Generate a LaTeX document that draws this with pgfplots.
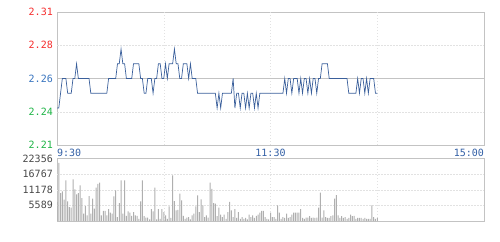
\documentclass[border=0pt]{standalone}
\usepackage{pgfplots}
\pgfplotsset{compat=1.18}
\usepackage{fontspec}
\setmainfont{DejaVu Sans Mono}
\definecolor{pline}{RGB}{58,95,155}
\definecolor{pred}{RGB}{245,45,45}
\definecolor{pblue}{RGB}{55,115,190}
\definecolor{pgreen}{RGB}{30,180,70}
\definecolor{tblue}{RGB}{50,95,165}
\definecolor{frm}{RGB}{195,195,195}
\definecolor{grd}{RGB}{226,226,226}
\definecolor{mid}{RGB}{195,195,195}
\definecolor{vbar}{RGB}{175,175,175}
\begin{document}
\begin{tikzpicture}
\useasboundingbox (0,0) rectangle (500pt,-241pt);
\begin{axis}[at={(57pt,-145pt)}, anchor=south west, scale only axis,
  width=427pt, height=133pt, xmin=0, xmax=240, ymin=2.215, ymax=2.305,
  axis line style={draw=frm}, tick style={draw=none},
  xtick={0,120,240},
  xticklabels={\makebox[0pt][l]{9:30},11:30,\makebox[0pt][r]{15:00}},
  xticklabel style={anchor=north, inner sep=0pt, yshift=-4pt, text=tblue, font=\fontsize{10}{12}\selectfont},
  ytick={2.215,2.2375,2.26,2.2825,2.305},
  yticklabels={{\color{pgreen}2.21},{\color{pgreen}2.24},{\color{pblue}2.26},{\color{pred}2.28},{\color{pred}2.31}},
  yticklabel style={anchor=east, inner sep=0pt, xshift=-4pt, font=\fontsize{10}{12}\selectfont},
  clip=false]
\draw[grd, dash pattern=on 1.5pt off 1.5pt] (axis cs:60,2.215) -- (axis cs:60,2.305);
\draw[grd, dash pattern=on 1.5pt off 1.5pt] (axis cs:120,2.215) -- (axis cs:120,2.305);
\draw[grd, dash pattern=on 1.5pt off 1.5pt] (axis cs:180,2.215) -- (axis cs:180,2.305);
\draw[grd, dash pattern=on 1.5pt off 1.5pt] (axis cs:0,2.2375) -- (axis cs:240,2.2375);
\draw[grd, dash pattern=on 1.5pt off 1.5pt] (axis cs:0,2.2825) -- (axis cs:240,2.2825);
\draw[mid, line width=0.8pt] (axis cs:0,2.26) -- (axis cs:240,2.26);
\addplot[pline, line width=0.7pt, mark=none] coordinates {
(0,2.24)(1,2.24)(2,2.25)(3,2.26)(4,2.26)(5,2.26)(6,2.25)(7,2.25)(8,2.25)(9,2.26)
(10,2.26)(11,2.27)(12,2.26)(13,2.26)(14,2.26)(15,2.26)(16,2.26)(17,2.26)(18,2.26)(19,2.25)
(20,2.25)(21,2.25)(22,2.25)(23,2.25)(24,2.25)(25,2.25)(26,2.25)(27,2.25)(28,2.25)(29,2.26)
(30,2.26)(31,2.26)(32,2.26)(33,2.26)(34,2.27)(35,2.27)(36,2.28)(37,2.27)(38,2.27)(39,2.26)
(40,2.26)(41,2.26)(42,2.26)(43,2.27)(44,2.27)(45,2.27)(46,2.27)(47,2.26)(48,2.26)(49,2.25)
(50,2.25)(51,2.26)(52,2.26)(53,2.26)(54,2.25)(55,2.26)(56,2.26)(57,2.27)(58,2.27)(59,2.26)
(60,2.26)(61,2.27)(62,2.26)(63,2.27)(64,2.27)(65,2.27)(66,2.28)(67,2.27)(68,2.27)(69,2.26)
(70,2.26)(71,2.27)(72,2.27)(73,2.27)(74,2.26)(75,2.27)(76,2.26)(77,2.26)(78,2.26)(79,2.25)
(80,2.25)(81,2.25)(82,2.25)(83,2.25)(84,2.25)(85,2.25)(86,2.25)(87,2.25)(88,2.25)(89,2.25)
(90,2.24)(91,2.25)(92,2.24)(93,2.25)(94,2.25)(95,2.25)(96,2.25)(97,2.25)(98,2.25)(99,2.26)
(100,2.24)(101,2.25)(102,2.25)(103,2.24)(104,2.25)(105,2.25)(106,2.24)(107,2.25)(108,2.24)(109,2.25)
(110,2.25)(111,2.24)(112,2.25)(113,2.24)(114,2.25)(115,2.25)(116,2.25)(117,2.25)(118,2.25)(119,2.25)
(120,2.25)(121,2.25)(122,2.25)(123,2.25)(124,2.25)(125,2.25)(126,2.25)(127,2.25)(128,2.26)(129,2.25)
(130,2.26)(131,2.26)(132,2.25)(133,2.26)(134,2.26)(135,2.26)(136,2.25)(137,2.26)(138,2.25)(139,2.26)
(140,2.26)(141,2.25)(142,2.26)(143,2.25)(144,2.26)(145,2.26)(146,2.25)(147,2.26)(148,2.26)(149,2.27)
(150,2.27)(151,2.27)(152,2.27)(153,2.26)(154,2.26)(155,2.26)(156,2.26)(157,2.26)(158,2.26)(159,2.26)
(160,2.26)(161,2.26)(162,2.26)(163,2.26)(164,2.25)(165,2.25)(166,2.25)(167,2.25)(168,2.25)(169,2.26)
(170,2.25)(171,2.26)(172,2.26)(173,2.25)(174,2.26)(175,2.25)(176,2.26)(177,2.26)(178,2.26)(179,2.25)
(180,2.25)};
\end{axis}
\begin{axis}[at={(57pt,-221pt)}, anchor=south west, scale only axis,
  width=427pt, height=62.6pt, xmin=0, xmax=240, ymin=0, ymax=22356,
  axis line style={draw=frm}, tick style={draw=none},
  xtick=\empty,
  ytick={5589,11178,16767,22356},
  yticklabels={5589,11178,16767,22356},
  yticklabel style={anchor=east, inner sep=0pt, xshift=-4pt, text=black!72, font=\fontsize{10}{12}\selectfont},
  scaled y ticks=false]
\draw[grd, dash pattern=on 1.5pt off 1.5pt] (axis cs:60,0) -- (axis cs:60,22356);
\draw[grd, dash pattern=on 1.5pt off 1.5pt] (axis cs:120,0) -- (axis cs:120,22356);
\draw[grd, dash pattern=on 1.5pt off 1.5pt] (axis cs:180,0) -- (axis cs:180,22356);
\draw[grd, dash pattern=on 1.5pt off 1.5pt] (axis cs:0,5589) -- (axis cs:240,5589);
\draw[grd, dash pattern=on 1.5pt off 1.5pt] (axis cs:0,11178) -- (axis cs:240,11178);
\draw[grd, dash pattern=on 1.5pt off 1.5pt] (axis cs:0,16767) -- (axis cs:240,16767);
\addplot[ybar, bar width=1pt, fill=vbar, draw=none] coordinates {
(0,6800)(1,20800)(2,10000)(3,10600)(4,7600)(5,14500)(6,7000)(7,5000)(8,4750)(9,14900)
(10,11300)(11,9500)(12,10000)(13,12700)(14,8200)(15,2600)(16,5350)(17,2000)(18,8900)(19,2600)
(20,8000)(21,4400)(22,11900)(23,13300)(24,13700)(25,2000)(26,3600)(27,3600)(28,2000)(29,4200)
(30,3000)(31,2600)(32,8800)(33,10900)(34,1400)(35,6400)(36,14500)(37,2600)(38,14500)(39,1800)
(40,3400)(41,3000)(42,1800)(43,3200)(44,2000)(45,1800)(46,800)(47,7000)(48,14500)(49,1700)
(50,1200)(51,1200)(52,600)(53,4200)(54,3400)(55,11900)(56,600)(57,4200)(58,800)(59,4200)
(60,3200)(61,2000)(62,800)(63,5200)(64,1100)(65,16300)(66,7100)(67,3800)(68,4000)(69,9750)
(70,7400)(71,1800)(72,800)(73,1200)(74,1400)(75,600)(76,2000)(77,2600)(78,5200)(79,9150)
(80,3200)(81,7700)(82,5600)(83,1400)(84,2000)(85,1200)(86,13700)(87,11500)(88,6400)(89,6200)
(90,1700)(91,4750)(92,2300)(93,1400)(94,2300)(95,800)(96,3200)(97,6800)(98,3800)(99,1400)
(100,4200)(101,1100)(102,3200)(103,800)(104,1400)(105,800)(106,1100)(107,600)(108,2300)(109,1400)
(110,2000)(111,1100)(112,1800)(113,2300)(114,3000)(115,3600)(116,3600)(117,1400)(118,800)(119,600)
(120,3000)(121,1400)(122,1400)(123,800)(124,5600)(125,3000)(126,800)(127,1400)(128,1100)(129,2600)
(130,1100)(131,1400)(132,2300)(133,3000)(134,3000)(135,3000)(136,3000)(137,4200)(138,1100)(139,800)
(140,1200)(141,1200)(142,1700)(143,1100)(144,1200)(145,1100)(146,1200)(147,4800)(148,10100)(149,1200)
(150,3800)(151,1400)(152,1100)(153,1100)(154,1700)(155,2000)(156,8000)(157,9200)(158,2000)(159,1100)
(160,1700)(161,1100)(162,1400)(163,800)(164,1100)(165,2300)(166,1700)(167,1800)(168,800)(169,1100)
(170,1100)(171,1100)(172,800)(173,1100)(174,800)(175,800)(176,800)(177,5600)(178,1400)(179,800)
(180,1100)};
\end{axis}
\end{tikzpicture}
\end{document}
